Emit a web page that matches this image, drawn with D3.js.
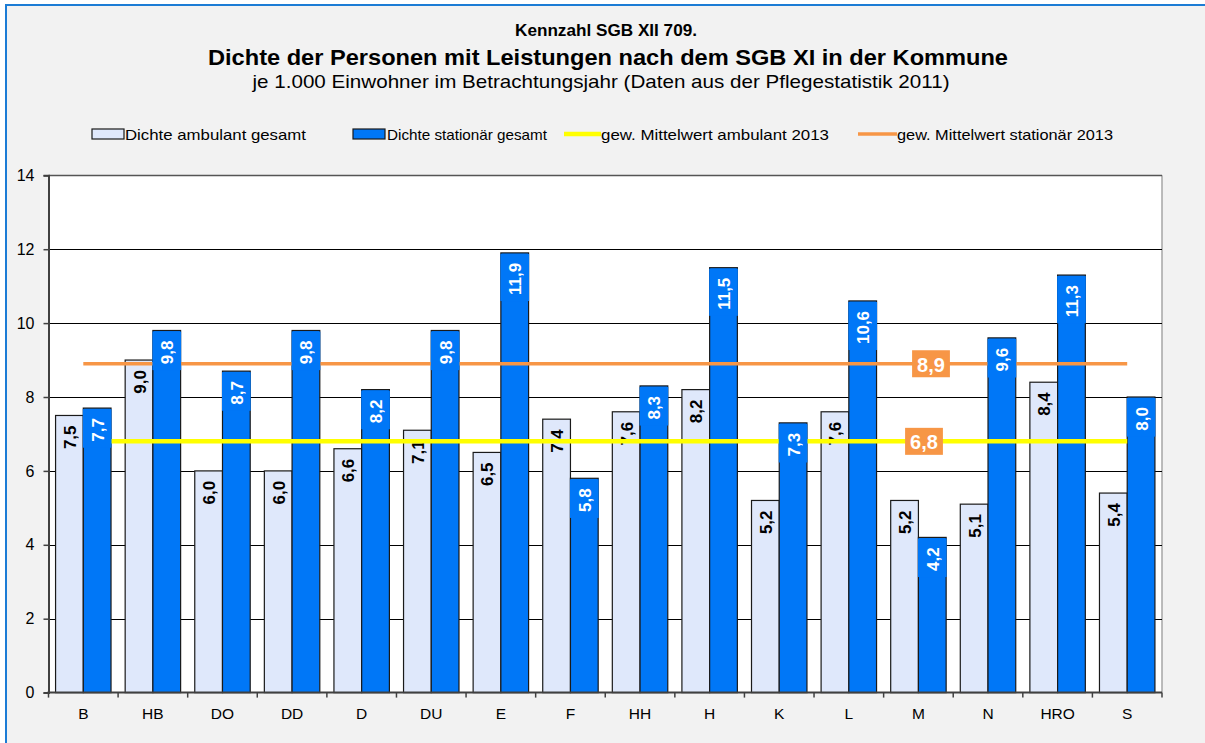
<!DOCTYPE html>
<html>
<head>
<meta charset="utf-8">
<script src="https://cdn.jsdelivr.net/npm/d3@7/dist/d3.min.js"></script>
<style>
  html, body { margin: 0; padding: 0; background: #ffffff; }
  svg { display: block; font-family: "Liberation Sans", Arial, sans-serif; }
</style>
</head>
<body>
<svg id="chart" width="1205" height="743"></svg>
<script>
// Kommunen (categories)
const categories = ["B", "HB", "DO", "DD", "D", "DU", "E", "F", "HH", "H", "K", "L", "M", "N", "HRO", "S"];
// Dichte ambulant gesamt (je 1.000 Einwohner)
const ambulant = [7.5, 9.0, 6.0, 6.0, 6.6, 7.1, 6.5, 7.4, 7.6, 8.2, 5.2, 7.6, 5.2, 5.1, 8.4, 5.4];
// Dichte stationär gesamt (je 1.000 Einwohner)
const stationaer = [7.7, 9.8, 8.7, 9.8, 8.2, 9.8, 11.9, 5.8, 8.3, 11.5, 7.3, 10.6, 4.2, 9.6, 11.3, 8.0];
// gewichtete Mittelwerte 2013
const meanAmbulant = 6.8;
const meanStationaer = 8.9;
const yTicks = [0, 2, 4, 6, 8, 10, 12, 14];

const fmt = v => d3.format(".1f")(v).replace(".", ",");

const svg = d3.select("#chart");

// chart frame
svg.append("rect")
  .attr("x", 6).attr("y", 5).attr("width", 1220).attr("height", 760)
  .attr("fill", "#f2f2f2").attr("stroke", "#1c7cd5").attr("stroke-width", 2);

// titles
const titles = svg.append("g").attr("text-anchor", "middle").attr("fill", "#000");
titles.append("text").attr("x", 606).attr("y", 36)
  .attr("font-size", 17).attr("font-weight", "bold")
  .attr("textLength", 182).attr("lengthAdjust", "spacingAndGlyphs")
  .text("Kennzahl SGB XII 709.");
titles.append("text").attr("x", 608).attr("y", 65)
  .attr("font-size", 22).attr("font-weight", "bold")
  .attr("textLength", 800).attr("lengthAdjust", "spacingAndGlyphs")
  .text("Dichte der Personen mit Leistungen nach dem SGB XI in der Kommune");
titles.append("text").attr("x", 601).attr("y", 88)
  .attr("font-size", 19)
  .attr("textLength", 697).attr("lengthAdjust", "spacingAndGlyphs")
  .text("je 1.000 Einwohner im Betrachtungsjahr (Daten aus der Pflegestatistik 2011)");

// layout of the plot area
const plotL = 48.5, plotR = 1162, plotT = 175.3, plotB = 692.6;

const x0 = d3.scaleBand().domain(categories).range([plotL, plotR]).padding(0);
const x1 = d3.scaleBand().domain(["amb", "stat"]).range([0, x0.bandwidth()])
  .paddingInner(0).paddingOuter(0.255);
const y = d3.scaleLinear().domain([0, 14]).range([plotB, plotT]);

// plot background
svg.append("rect")
  .attr("x", plotL).attr("y", plotT).attr("width", plotR - plotL).attr("height", plotB - plotT)
  .attr("fill", "#ffffff");
svg.append("line")
  .attr("x1", plotR).attr("x2", plotR).attr("y1", plotT).attr("y2", plotB)
  .attr("stroke", "#a6a6a6").attr("stroke-width", 1.5);

// gridlines
svg.append("g").selectAll("line").data(yTicks.filter(t => t > 0)).join("line")
  .attr("x1", plotL).attr("x2", plotR)
  .attr("y1", d => Math.round(y(d)) + 0.5).attr("y2", d => Math.round(y(d)) + 0.5)
  .attr("stroke", d => d === 14 ? "#555" : "#000").attr("stroke-width", d => d === 14 ? 1.5 : 1);

// y axis
const yAxis = svg.append("g").attr("transform", `translate(${plotL},0)`)
  .call(d3.axisLeft(y).tickValues(yTicks).tickSize(5).tickPadding(9).tickFormat(d3.format("d")));
yAxis.select(".domain").attr("stroke", "#404040").attr("stroke-width", 2);
yAxis.selectAll(".tick line").attr("stroke", "#404040").attr("stroke-width", 1.5);
yAxis.selectAll("text").attr("font-size", 16).attr("fill", "#000")
  .attr("font-family", "'Liberation Sans', Arial, sans-serif");

// bars
const groups = svg.append("g").selectAll("g").data(categories).join("g")
  .attr("transform", d => `translate(${x0(d)},0)`);

groups.append("rect")
  .attr("x", x1("amb")).attr("width", x1.bandwidth())
  .attr("y", (d, i) => y(ambulant[i])).attr("height", (d, i) => y(0) - y(ambulant[i]))
  .attr("fill", "#dfe8fb").attr("stroke", "#1a1a1a").attr("stroke-width", 1.2);

groups.append("rect")
  .attr("x", x1("stat")).attr("width", x1.bandwidth())
  .attr("y", (d, i) => y(stationaer[i])).attr("height", (d, i) => y(0) - y(stationaer[i]))
  .attr("fill", "#0077f7").attr("stroke", "#1a1a1a").attr("stroke-width", 1.2);

// x axis
const xAxisG = svg.append("g").attr("transform", `translate(0,${plotB})`);
xAxisG.append("line").attr("x1", plotL - 1).attr("x2", plotR)
  .attr("y1", 0).attr("y2", 0).attr("stroke", "#404040").attr("stroke-width", 2);
xAxisG.selectAll(".tk").data(categories.concat(["end"])).join("line").attr("class", "tk")
  .attr("x1", (d, i) => plotL + i * x0.bandwidth()).attr("x2", (d, i) => plotL + i * x0.bandwidth())
  .attr("y1", 0).attr("y2", 5).attr("stroke", "#404040").attr("stroke-width", 1.5);
xAxisG.selectAll("text").data(categories).join("text")
  .attr("x", d => x0(d) + x0.bandwidth() / 2).attr("y", 26)
  .attr("text-anchor", "middle").attr("font-size", 15.5).attr("fill", "#000")
  .text(d => d);

// labels inside ambulant bars
const labelFont = 17;
groups.append("text")
  .attr("transform", (d, i) => `translate(${x1("amb") + x1.bandwidth() / 2 + 1},${y(ambulant[i]) + 10}) rotate(-90)`)
  .attr("text-anchor", "end").attr("dominant-baseline", "central")
  .attr("font-size", labelFont).attr("font-weight", "bold").attr("fill", "#000")
  .text((d, i) => fmt(ambulant[i]));

// mean lines from first to last category centre
const xFirst = x0(categories[0]) + x0.bandwidth() / 2;
const xLast = x0(categories[categories.length - 1]) + x0.bandwidth() / 2;
svg.append("line")
  .attr("x1", xFirst).attr("x2", xLast).attr("y1", y(meanStationaer)).attr("y2", y(meanStationaer))
  .attr("stroke", "#f79646").attr("stroke-width", 3.5);
svg.append("line")
  .attr("x1", xFirst).attr("x2", xLast).attr("y1", y(meanAmbulant)).attr("y2", y(meanAmbulant))
  .attr("stroke", "#ffff00").attr("stroke-width", 4.5);

// labels inside stationary bars, on a bar-coloured box, above the mean lines
const statLabels = svg.append("g").selectAll("g").data(categories).join("g")
  .attr("transform", d => `translate(${x0(d)},0)`);
statLabels.each(function (d, i) {
  const g = d3.select(this);
  const cx = x1("stat") + x1.bandwidth() / 2 + 1;
  const t = g.append("text")
    .attr("transform", `translate(${cx},${y(stationaer[i]) + 10}) rotate(-90)`)
    .attr("text-anchor", "end").attr("dominant-baseline", "central")
    .attr("font-size", labelFont).attr("font-weight", "bold").attr("fill", "#fff")
    .text(fmt(stationaer[i]));
  const len = t.node().getComputedTextLength();
  g.insert("rect", function () { return t.node(); })
    .attr("x", x1("stat") - 0.5).attr("width", x1.bandwidth() + 1)
    .attr("y", y(stationaer[i]) + 1).attr("height", len + 15)
    .attr("fill", "#0077f7");
});

// value boxes for the means
function meanBox(v, cx, cy) {
  const g = svg.append("g");
  const t = g.append("text").attr("x", cx).attr("y", cy + 1)
    .attr("text-anchor", "middle").attr("dominant-baseline", "central")
    .attr("font-size", 20).attr("font-weight", "bold").attr("fill", "#fff")
    .text(fmt(v));
  const w = t.node().getComputedTextLength() + 10;
  g.insert("rect", "text").attr("x", cx - w / 2).attr("y", cy - 13.5)
    .attr("width", w).attr("height", 27).attr("fill", "#f79646");
}
meanBox(meanStationaer, 931, y(meanStationaer));
meanBox(meanAmbulant, 924, y(meanAmbulant));

// legend
const legend = svg.append("g").attr("font-size", 15).attr("fill", "#000");
legend.append("rect").attr("x", 92).attr("y", 129).attr("width", 32).attr("height", 10)
  .attr("fill", "#dfe8fb").attr("stroke", "#1a1a1a").attr("stroke-width", 1.2);
legend.append("text").attr("x", 125).attr("y", 139.5)
  .attr("textLength", 181).attr("lengthAdjust", "spacingAndGlyphs").text("Dichte ambulant gesamt");
legend.append("rect").attr("x", 353).attr("y", 129).attr("width", 32).attr("height", 10)
  .attr("fill", "#0077f7").attr("stroke", "#1a1a1a").attr("stroke-width", 1.2);
legend.append("text").attr("x", 387).attr("y", 139.5)
  .attr("textLength", 160).attr("lengthAdjust", "spacingAndGlyphs").text("Dichte stationär gesamt");
legend.append("line").attr("x1", 564).attr("x2", 601).attr("y1", 134).attr("y2", 134)
  .attr("stroke", "#ffff00").attr("stroke-width", 4.5);
legend.append("text").attr("x", 601).attr("y", 139.5)
  .attr("textLength", 228).attr("lengthAdjust", "spacingAndGlyphs").text("gew. Mittelwert ambulant 2013");
legend.append("line").attr("x1", 858).attr("x2", 897).attr("y1", 134).attr("y2", 134)
  .attr("stroke", "#f79646").attr("stroke-width", 3.5);
legend.append("text").attr("x", 897).attr("y", 139.5)
  .attr("textLength", 216).attr("lengthAdjust", "spacingAndGlyphs").text("gew. Mittelwert stationär 2013");
</script>
</body>
</html>
